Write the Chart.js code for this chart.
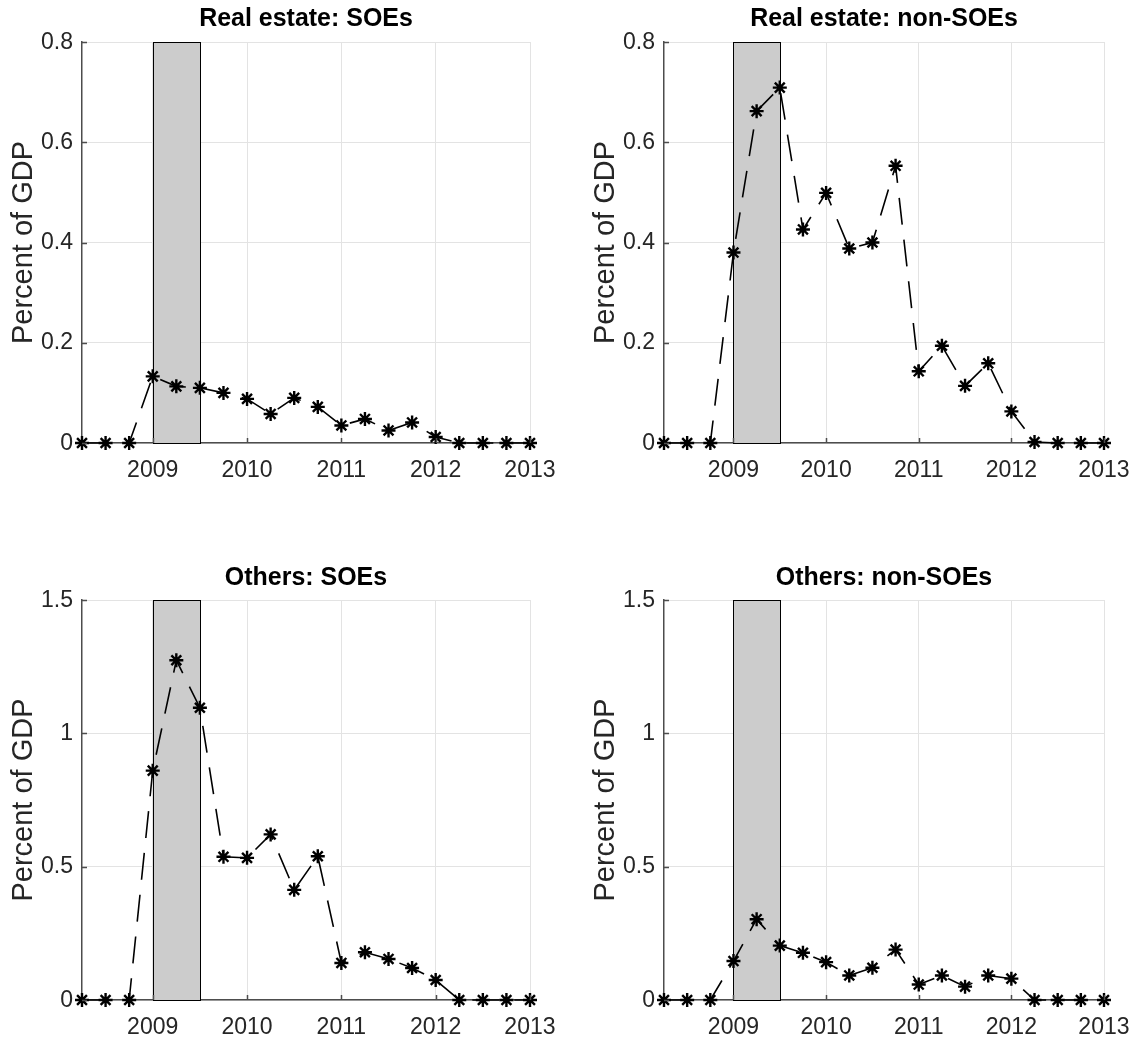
<!DOCTYPE html>
<html><head><meta charset="utf-8">
<script src="https://cdn.jsdelivr.net/npm/chart.js@4/dist/chart.umd.min.js"></script>
<style>
html,body{margin:0;padding:0;background:#fff;}
#wrap{position:relative;width:1136px;height:1046px;overflow:hidden;}
canvas{position:absolute;}
</style></head><body>
<div id="wrap">
<canvas id="c1" width="568" height="523" style="left:0;top:0"></canvas>
<canvas id="c2" width="568" height="523" style="left:568px;top:0"></canvas>
<canvas id="c3" width="568" height="523" style="left:0;top:523px"></canvas>
<canvas id="c4" width="568" height="523" style="left:568px;top:523px"></canvas>
</div>
<script>
// ---- data ----
const quarters = [2008.25, 2008.5, 2008.75, 2009, 2009.25, 2009.5, 2009.75, 2010, 2010.25, 2010.5, 2010.75, 2011, 2011.25, 2011.5, 2011.75, 2012, 2012.25, 2012.5, 2012.75, 2013];
const realEstateSOE    = [0, 0, 0, 0.133, 0.113, 0.110, 0.100, 0.088, 0.058, 0.090, 0.072, 0.035, 0.048, 0.025, 0.041, 0.012, 0, 0, 0, 0];
const realEstateNonSOE = [0, 0, 0, 0.380, 0.662, 0.709, 0.426, 0.499, 0.388, 0.400, 0.553, 0.143, 0.194, 0.114, 0.159, 0.063, 0.002, 0, 0, 0];
const othersSOE        = [0, 0, 0, 0.860, 1.274, 1.096, 0.537, 0.533, 0.621, 0.413, 0.539, 0.139, 0.179, 0.154, 0.120, 0.075, 0, 0, 0, 0];
const othersNonSOE     = [0, 0, 0, 0.146, 0.303, 0.204, 0.177, 0.142, 0.092, 0.121, 0.189, 0.058, 0.092, 0.050, 0.092, 0.080, 0, 0, 0, 0];
const titles = ['Real estate: SOEs', 'Real estate: non-SOEs', 'Others: SOEs', 'Others: non-SOEs'];
const xTickValues = [2009, 2010, 2011, 2012, 2013];
const xTickLabels = ['2009', '2010', '2011', '2012', '2013'];
const yTicksTop = [0, 0.2, 0.4, 0.6, 0.8];
const yTickLabelsTop = ['0', '0.2', '0.4', '0.6', '0.8'];
const yTicksBottom = [0, 0.5, 1, 1.5];
const yTickLabelsBottom = ['0', '0.5', '1', '1.5'];
const yAxisTitle = 'Percent of GDP';
const xRange = [2008.25, 2013];
const shadeRange = [2009, 2009.5];

const FONT = "'Liberation Sans', Arial, Helvetica, sans-serif";
const AXIS_COLOR = '#4d4d4d';
const TEXT_COLOR = '#262626';
const GRID_COLOR = '#e3e3e3';
const TEXT_SX = 0.96; // slightly condensed lettering, as in the original

// draw horizontal text slightly condensed (MATLAB/Helvetica look)
function condenseText(ctx) {
  const orig = CanvasRenderingContext2D.prototype.fillText;
  ctx.fillText = function (text, x, y, maxWidth) {
    const m = this.getTransform();
    if (Math.abs(m.b) > 1e-6 || Math.abs(m.c) > 1e-6) {
      return orig.call(this, text, x, y, maxWidth);
    }
    this.save();
    this.translate(x, y);
    this.scale(TEXT_SX, 1);
    if (maxWidth !== undefined) orig.call(this, text, 0, 0, maxWidth / TEXT_SX);
    else orig.call(this, text, 0, 0);
    this.restore();
  };
}

const decorPlugin = {
  id: 'decor',
  beforeDatasetsDraw(chart) {
    const {ctx, chartArea, scales: {x}} = chart;
    const x0 = Math.round(x.getPixelForValue(shadeRange[0])) + 0.5;
    const x1 = Math.round(x.getPixelForValue(shadeRange[1])) + 0.5;
    const top = Math.round(chartArea.top) + 0.5;
    const h = Math.round(chartArea.bottom - chartArea.top);
    ctx.save();
    ctx.fillStyle = '#cccccc';
    ctx.fillRect(x0, top, x1 - x0, h);
    ctx.strokeStyle = '#000';
    ctx.lineWidth = 1;
    ctx.strokeRect(x0, top, x1 - x0, h);
    ctx.restore();
  },
  afterDraw(chart) {
    const {ctx, chartArea, scales: {x, y}} = chart;
    const o = chart.options.plugins.decor;
    ctx.save();
    // inward tick marks
    ctx.strokeStyle = AXIS_COLOR;
    ctx.lineWidth = 1.5;
    ctx.beginPath();
    y.ticks.forEach(t => {
      const py = Math.round(y.getPixelForValue(t.value)) + 0.5;
      ctx.moveTo(chartArea.left, py);
      ctx.lineTo(chartArea.left + 5, py);
    });
    x.ticks.forEach(t => {
      const px = Math.round(x.getPixelForValue(t.value)) + 0.5;
      ctx.moveTo(px, chartArea.bottom);
      ctx.lineTo(px, chartArea.bottom - 5);
    });
    ctx.stroke();
    // subplot title centred over the axes
    ctx.fillStyle = '#000';
    ctx.font = 'bold 26px ' + FONT;
    ctx.textAlign = 'center';
    ctx.textBaseline = 'middle';
    ctx.fillText(o.title, (chartArea.left + chartArea.right) / 2, o.titleY);
    ctx.restore();
  }
};

function makeChart(id, title, values, yMax, yTicks, yLabels, cfg) {
  const ctx = document.getElementById(id).getContext('2d');
  condenseText(ctx);
  return new Chart(ctx, {
    type: 'line',
    data: {
      datasets: [{
        data: quarters.map((q, i) => ({x: q, y: values[i]})),
        borderColor: '#000',
        borderWidth: 1.6,
        borderDash: [27, 15],
        pointStyle: 'star',
        pointRadius: 7,
        pointBorderWidth: 2.4,
        pointBorderColor: '#000',
        pointBackgroundColor: '#000',
        tension: 0,
        clip: false
      }]
    },
    options: {
      responsive: false,
      animation: false,
      devicePixelRatio: 1,
      layout: {padding: {left: 0, right: cfg.padRight, top: cfg.top, bottom: 0}},
      plugins: {
        legend: {display: false},
        tooltip: {enabled: false},
        title: {display: false},
        decor: {title: title, titleY: cfg.titleY}
      },
      scales: {
        x: {
          type: 'linear',
          min: xRange[0],
          max: xRange[1],
          afterBuildTicks: s => { s.ticks = xTickValues.map(v => ({value: v})); },
          afterFit: s => { s.height = cfg.xHeight; s.paddingLeft = 0; s.paddingRight = 0; },
          ticks: {
            color: TEXT_COLOR,
            font: {family: FONT, size: 24},
            padding: 13,
            maxRotation: 0,
            autoSkip: false,
            callback: v => xTickLabels[xTickValues.indexOf(v)]
          },
          grid: {color: GRID_COLOR, lineWidth: 1, drawTicks: false},
          border: {color: AXIS_COLOR, width: 1.5}
        },
        y: {
          min: 0,
          max: yMax,
          afterBuildTicks: s => { s.ticks = yTicks.map(v => ({value: v})); },
          afterFit: s => { s.width = cfg.yWidth; s.paddingTop = 0; s.paddingBottom = 0; },
          ticks: {
            color: TEXT_COLOR,
            font: {family: FONT, size: 24},
            padding: 9,
            autoSkip: false,
            callback: v => yLabels[yTicks.indexOf(v)]
          },
          grid: {color: GRID_COLOR, lineWidth: 1, drawTicks: false},
          border: {color: AXIS_COLOR, width: 1.5},
          title: {
            display: true,
            text: yAxisTitle,
            color: TEXT_COLOR,
            font: {family: FONT, size: 29},
            padding: {top: cfg.yTitlePad, bottom: 0}
          }
        }
      }
    },
    plugins: [decorPlugin]
  });
}

makeChart('c1', titles[0], realEstateSOE, 0.8, yTicksTop, yTickLabelsTop,
  {padRight: 38, yWidth: 82, xHeight: 80, top: 42, titleY: 19, yTitlePad: 7});
makeChart('c2', titles[1], realEstateNonSOE, 0.8, yTicksTop, yTickLabelsTop,
  {padRight: 32, yWidth: 96, xHeight: 80, top: 42, titleY: 19, yTitlePad: 21});
makeChart('c3', titles[2], othersSOE, 1.5, yTicksBottom, yTickLabelsBottom,
  {padRight: 38, yWidth: 82, xHeight: 46, top: 77, titleY: 55, yTitlePad: 7});
makeChart('c4', titles[3], othersNonSOE, 1.5, yTicksBottom, yTickLabelsBottom,
  {padRight: 32, yWidth: 96, xHeight: 46, top: 77, titleY: 55, yTitlePad: 21});
</script>
</body></html>
